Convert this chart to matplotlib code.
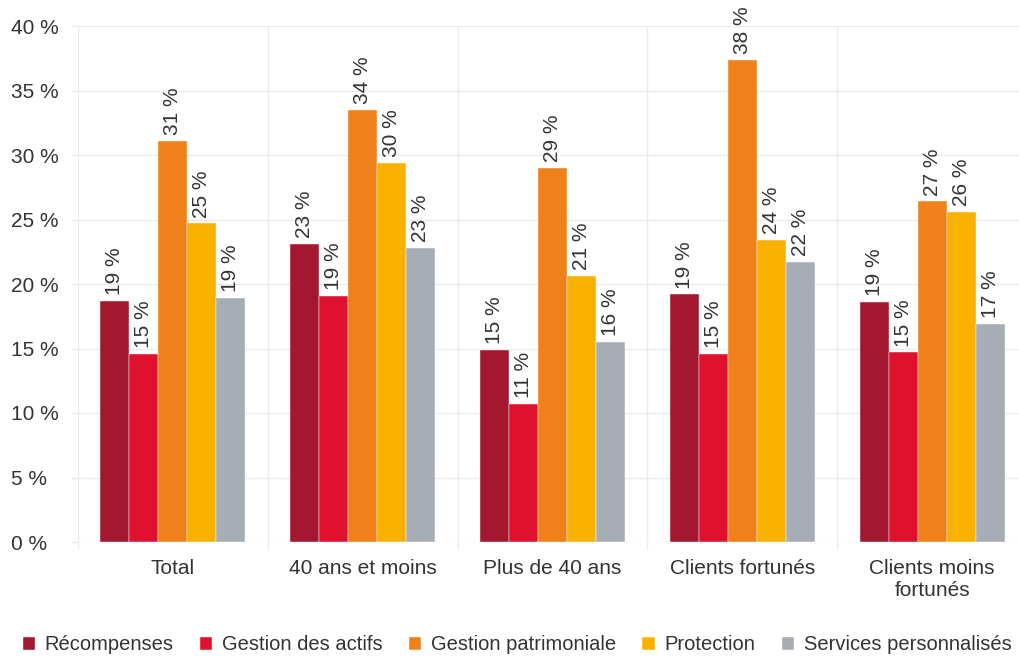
import matplotlib
matplotlib.use("Agg")
import matplotlib.pyplot as plt
import numpy as np

plt.rcParams['font.family'] = ['Liberation Sans', 'DejaVu Sans']

categories = ["Total", "40 ans et moins", "Plus de 40 ans", "Clients fortunés", "Clients moins\nfortunés"]
series_names = ["Récompenses", "Gestion des actifs", "Gestion patrimoniale", "Protection", "Services personnalisés"]
recompenses = [18.7, 23.1, 14.9, 19.2, 18.6]
gestion_actifs = [14.6, 19.1, 10.7, 14.6, 14.7]
gestion_patrimoniale = [31.1, 33.5, 29.0, 37.4, 26.4]
protection = [24.7, 29.4, 20.6, 23.4, 25.6]
services = [18.9, 22.8, 15.5, 21.7, 16.9]
# libellés affichés (arrondis de la source)
labels = [
    [19, 23, 15, 19, 19],
    [15, 19, 11, 15, 15],
    [31, 34, 29, 38, 27],
    [25, 30, 21, 24, 26],
    [19, 23, 16, 22, 17],
]
colors = ["#A3182F", "#E0112F", "#F08019", "#F9B100", "#A6ADB4"]

series = [recompenses, gestion_actifs, gestion_patrimoniale, protection, services]
text_col = "#333333"
grid_col = "#EBEBEB"

fig = plt.figure(figsize=(10.2, 6.57), dpi=100)
ax = fig.add_axes([78/1020, 115/657, 949/1020, 516/657])

x = np.arange(len(categories))
w = 0.153
for i, (vals, name, c) in enumerate(zip(series, series_names, colors)):
    pos = x + (i - 2) * w
    ax.bar(pos, vals, width=w, color=c, label=name, edgecolor="#FFFFFF", linewidth=0.3, zorder=3)
    for px, v, lab in zip(pos, vals, labels[i]):
        ax.text(px, v + 0.45, f"{lab} %", rotation=90, ha="center", va="bottom",
                fontsize=15, color=text_col)

ax.set_xlim(-0.5, len(categories) - 0.5)
ax.set_ylim(0, 40)
ax.set_yticks(range(0, 41, 5))
ax.set_yticklabels([f"{t} %" for t in range(0, 41, 5)])
ax.set_xticks(x)
ax.set_xticklabels(categories)
ax.set_xticks(np.arange(-0.5, len(categories)), minor=True)

ax.grid(axis="y", color=grid_col, linewidth=1, zorder=0)
ax.grid(axis="x", which="minor", color=grid_col, linewidth=1, zorder=0)
for s in ax.spines.values():
    s.set_visible(False)

ax.tick_params(axis="y", length=5, color=grid_col, width=1, labelsize=15, labelcolor=text_col, pad=43)
for lab in ax.get_yticklabels():
    lab.set_horizontalalignment("left")
ax.tick_params(axis="x", which="major", length=0, labelsize=15, labelcolor=text_col, pad=12)
ax.tick_params(axis="x", which="minor", length=5, color=grid_col, width=1)

fig.legend(loc="center", bbox_to_anchor=(0.507, 12/657), ncol=5, frameon=False,
           fontsize=14.5, handlelength=0.6, handleheight=0.6, handletextpad=0.5,
           columnspacing=1.3, labelcolor=text_col)

fig.savefig("out.png", dpi=100)
